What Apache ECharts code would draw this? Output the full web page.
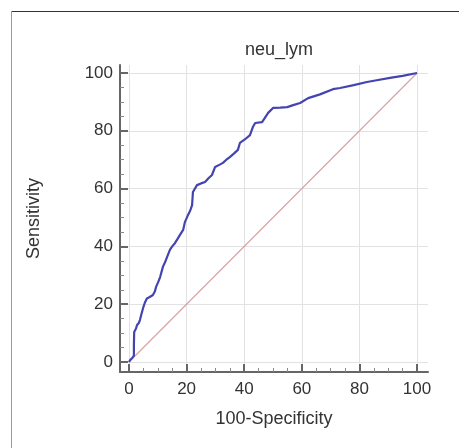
<!DOCTYPE html>
<html>
<head>
<meta charset="utf-8">
<script src="https://cdn.jsdelivr.net/npm/echarts@6/dist/echarts.min.js"></script>
<style>html,body{margin:0;padding:0;background:#fff}#c{width:459px;height:448px}</style>
</head>
<body>
<div id="c"></div>
<script>
var titleText = 'neu_lym';
var xName = '100-Specificity';
var yName = 'Sensitivity';
var majorTicks = [0, 20, 40, 60, 80, 100];
var minorTicks = [5, 10, 15, 25, 30, 35, 45, 50, 55, 65, 70, 75, 85, 90, 95];
var rocX = [0, 0.5, 1.2, 1.7, 1.7, 1.8, 2.4, 2.8, 3.4, 3.8, 4.3, 4.9, 5.5, 6.2, 7.2, 8.3, 9.0, 9.4, 10.2, 10.8, 11.3, 11.8, 12.5, 13.2, 14.2, 15.0, 16.0, 16.8, 17.7, 18.8, 19.4, 20.5, 21.3, 21.9, 22.2, 23.6, 25.0, 26.4, 27.5, 28.8, 29.9, 31.5, 32.6, 33.8, 35.0, 36.5, 37.8, 38.5, 40.2, 42.0, 43.0, 43.8, 46.2, 48.3, 50.0, 52.5, 54.9, 57.0, 59.4, 62.2, 66.3, 70.8, 73.3, 78.0, 82.6, 86.0, 90.6, 95.0, 100];
var rocY = [0, 0.8, 1.5, 2.2, 6.0, 10.4, 11.5, 12.8, 13.5, 14.5, 16.5, 18.7, 20.5, 22.0, 22.5, 23.2, 24.5, 26.0, 27.8, 29.4, 31.2, 33.0, 34.5, 36.3, 38.8, 40.0, 41.2, 42.5, 44.0, 45.7, 48.4, 50.9, 52.5, 54.3, 58.8, 61.2, 61.8, 62.3, 63.5, 64.7, 67.5, 68.3, 68.9, 70.0, 70.9, 72.2, 73.4, 75.8, 77.0, 78.5, 81.3, 82.7, 83.0, 86.2, 87.9, 88.0, 88.2, 88.9, 89.6, 91.3, 92.6, 94.4, 94.8, 95.8, 96.9, 97.5, 98.3, 99.0, 100];
var diagX = [0, 100];
var diagY = [0, 100];

var rocData = rocX.map(function (v, i) { return [v, rocY[i]]; });
var diagData = diagX.map(function (v, i) { return [v, diagY[i]]; });

var FONT = 'Liberation Sans';
var axisColor = '#666';

function mainAxis(isX) {
  return {
    type: 'value',
    gridIndex: 0,
    position: isX ? 'bottom' : 'left',
    min: isX ? -3.125 : -3.46,
    max: isX ? 103.8 : 102.77,
    name: isX ? xName : yName,
    nameLocation: 'middle',
    nameGap: isX ? 38 : 77,
    nameTextStyle: { fontFamily: FONT, fontSize: 18, color: '#333' },
    axisLine: { show: true, onZero: false, lineStyle: { color: axisColor, width: 2 } },
    axisTick: { show: true, inside: true, length: 8, customValues: majorTicks, lineStyle: { color: axisColor, width: 2 } },
    axisLabel: { customValues: majorTicks, fontFamily: FONT, fontSize: 17, color: '#333', margin: isX ? 9 : 7 },
    splitLine: { show: true, lineStyle: { color: '#e2e2e2', width: 1 } }
  };
}
function minorAxis(isX) {
  return {
    type: 'value',
    gridIndex: 0,
    position: isX ? 'bottom' : 'left',
    min: isX ? -3.125 : -3.46,
    max: isX ? 103.8 : 102.77,
    axisLine: { show: false, onZero: false },
    axisTick: { show: true, inside: true, length: 4, customValues: minorTicks, lineStyle: { color: '#888', width: 1 } },
    axisLabel: { show: false },
    splitLine: { show: false }
  };
}

var chart = echarts.init(document.getElementById('c'), null, { renderer: 'canvas' });
chart.setOption({
  animation: false,
  backgroundColor: '#fff',
  title: {
    text: titleText, left: 274, top: 36, textAlign: 'center',
    textStyle: { fontFamily: FONT, fontSize: 18, fontWeight: 'normal', color: '#333' }
  },
  grid: { left: 120, right: 31, top: 65, bottom: 76, containLabel: false },
  xAxis: [mainAxis(true), minorAxis(true)],
  yAxis: [mainAxis(false), minorAxis(false)],
  graphic: [
    { type: 'line', shape: { x1: 11.5, y1: 11.5, x2: 470, y2: 11.5 }, style: { stroke: '#333', lineWidth: 1 } },
    { type: 'line', shape: { x1: 11.5, y1: 11.5, x2: 11.5, y2: 460 }, style: { stroke: '#999', lineWidth: 1 } }
  ],
  series: [
    { type: 'line', xAxisIndex: 0, yAxisIndex: 0, data: diagData, symbol: 'none',
      lineStyle: { color: '#d8a4a4', width: 1.2 }, z: 2 },
    { type: 'line', xAxisIndex: 0, yAxisIndex: 0, data: rocData, symbol: 'none',
      lineStyle: { color: '#4444b0', width: 2.2 }, z: 3 }
  ]
});
</script>
</body>
</html>
